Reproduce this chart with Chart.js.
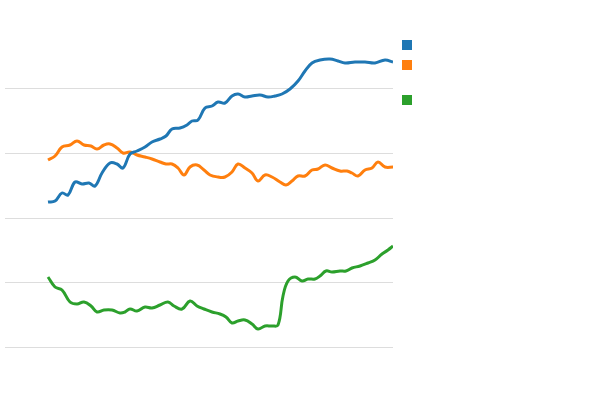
<!DOCTYPE html>
<html>
<head>
<meta charset="utf-8">
<script src="https://cdn.jsdelivr.net/npm/chart.js@4"></script>
<style>
  body { margin: 0; background: #fff; }
  #wrap { position: relative; width: 600px; height: 400px; }
  .key { position: absolute; left: 402px; width: 10px; height: 10px; }
</style>
</head>
<body>
<div id="wrap">
  <canvas id="chart" width="600" height="400"></canvas>
  <div class="key" style="top:40px;background:#1f77b4"></div>
  <div class="key" style="top:60px;background:#ff7f0e"></div>
  <div class="key" style="top:95px;background:#2ca02c"></div>
</div>
<script>
const blueX = [43,50,57,63,70,77,84,90,97,105,112,118,125,132,140,147,155,161,167,175,182,187,193,200,207,213,220,227,233,240,247,255,263,270,277,285,293,300,307,315,325,333,340,350,360,370,380,388];
const blueY = [145,146,154,152,165,163,164,161,174,184,183,179,193,196,200,205,208,211,218,219,222,226,227,239,241,245,244,251,253,250,251,252,250,251,253,258,266,276,284,287,288,286,284,285,285,284,287,285];
const orangeX = [43,50,57,65,72,79,86,92,99,105,112,118,125,132,140,147,155,161,167,173,179,185,192,199,205,213,220,227,233,240,247,253,260,267,275,281,287,293,300,307,313,320,327,335,342,347,353,360,367,373,380,388];
const orangeY = [187,191,200,202,206,202,201,198,202,203,199,194,195,192,190,188,185,183,183,179,172,180,182,177,172,170,170,175,183,179,174,166,172,170,165,162,166,171,171,177,178,182,179,176,176,174,171,177,179,185,180,180];
const greenX = [43,50,57,65,72,79,86,92,99,107,115,120,125,132,140,147,155,163,169,177,185,192,199,207,215,221,227,233,240,247,253,260,267,273,278,283,290,297,303,310,315,321,327,335,341,347,355,363,370,377,383,388];
const greenY = [70,60,57,45,43,45,41,35,37,37,34,35,38,36,40,39,42,45,41,38,46,41,38,35,33,30,24,26,27,23,18,21,21,22,51,66,70,66,68,68,71,76,75,76,76,79,81,84,87,93,97,101];

const toPts = (xs, ys) => xs.map((x, i) => ({ x: x, y: ys[i] }));

const ctx = document.getElementById('chart').getContext('2d');
new Chart(ctx, {
  type: 'line',
  data: {
    datasets: [
      { data: toPts(blueX, blueY), borderColor: '#1f77b4' },
      { data: toPts(orangeX, orangeY), borderColor: '#ff7f0e' },
      { data: toPts(greenX, greenY), borderColor: '#2ca02c' }
    ]
  },
  options: {
    responsive: false,
    animation: false,
    layout: { padding: { left: 5, right: 207, top: 24.5, bottom: 53 } },
    elements: {
      line: { borderWidth: 3, tension: 0.4, fill: false },
      point: { radius: 0 }
    },
    plugins: { legend: { display: false }, tooltip: { enabled: false } },
    scales: {
      x: {
        type: 'linear', min: 0, max: 388,
        display: true,
        grid: { display: false, drawTicks: false },
        border: { display: false },
        ticks: { display: false }
      },
      y: {
        min: 0, max: 322.5,
        afterBuildTicks: s => { s.ticks = [0, 64.5, 129, 193.5, 258].map(v => ({ value: v })); },
        grid: { color: '#dddddd', drawTicks: false },
        border: { display: false },
        ticks: { display: false }
      }
    }
  }
});
</script>
</body>
</html>
